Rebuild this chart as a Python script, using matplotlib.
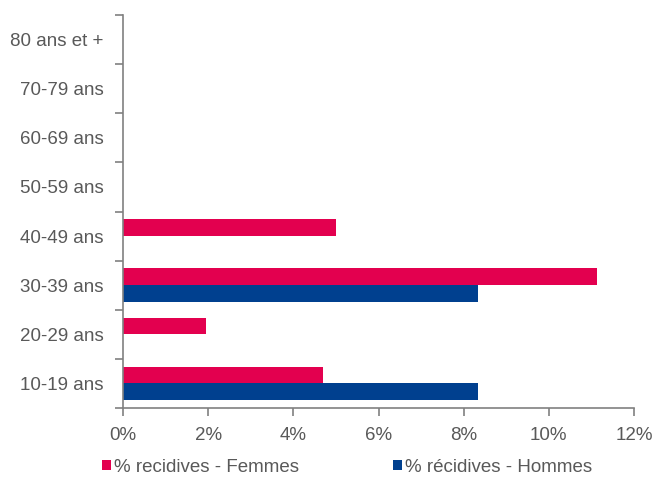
import matplotlib.pyplot as plt
import numpy as np
from matplotlib import font_manager
from matplotlib.ticker import FuncFormatter, FixedLocator

# tranches d'âge, de bas en haut
ages = ["10-19 ans", "20-29 ans", "30-39 ans", "40-49 ans",
        "50-59 ans", "60-69 ans", "70-79 ans", "80 ans et +"]
femmes = [4.69, 1.95, 11.12, 5.0, 0, 0, 0, 0]
hommes = [8.33, 0, 8.33, 0, 0, 0, 0, 0]

rose = "#E3004F"
bleu = "#00408F"
gris = "#595959"

names = [f.name for f in font_manager.fontManager.ttflist]
if "Liberation Sans Narrow" in names:
    plt.rcParams['font.family'] = ['Liberation Sans Narrow', 'DejaVu Sans']
else:
    plt.rcParams['font.family'] = ['Liberation Sans', 'DejaVu Sans']

fig = plt.figure(figsize=(6.54, 4.78), dpi=100)
ax = fig.add_axes([123 / 654, 1 - 408 / 478, 511 / 654, 393 / 478])

y = np.arange(len(ages))
h = 0.34
ax.barh(y + h / 2, femmes, height=h, color=rose, label="% recidives - Femmes")
ax.barh(y - h / 2, hommes, height=h, color=bleu, label="% récidives - Hommes")

ax.set_xlim(0, 12)
ax.set_ylim(-0.5, len(ages) - 0.5)
ax.set_xticks(np.arange(0, 13, 2))
ax.xaxis.set_major_formatter(FuncFormatter(lambda v, p: "%d%%" % v))

# graduations entre les catégories, libellés au centre
ax.set_yticks(y)
ax.set_yticklabels(ages)
ax.yaxis.set_minor_locator(FixedLocator(np.arange(-0.5, len(ages), 1)))
ax.tick_params(axis='y', which='major', length=0, pad=14, labelsize=13.5, labelcolor=gris)
ax.tick_params(axis='y', which='minor', length=6, color="#808080", width=1.2)
ax.tick_params(axis='x', length=6, color="#808080", width=1.2, pad=8,
               labelsize=13.5, labelcolor=gris)

for s in ["top", "right"]:
    ax.spines[s].set_visible(False)
for s in ["left", "bottom"]:
    ax.spines[s].set_color("#808080")
    ax.spines[s].set_linewidth(1.2)

leg = fig.legend(loc="center", bbox_to_anchor=(0.531, 1 - 467 / 478), ncol=2,
                 frameon=False, fontsize=13.5, handlelength=0.45, handleheight=0.45,
                 handletextpad=0.2, columnspacing=5.0, labelcolor=gris)

fig.savefig("out.png", dpi=100)
